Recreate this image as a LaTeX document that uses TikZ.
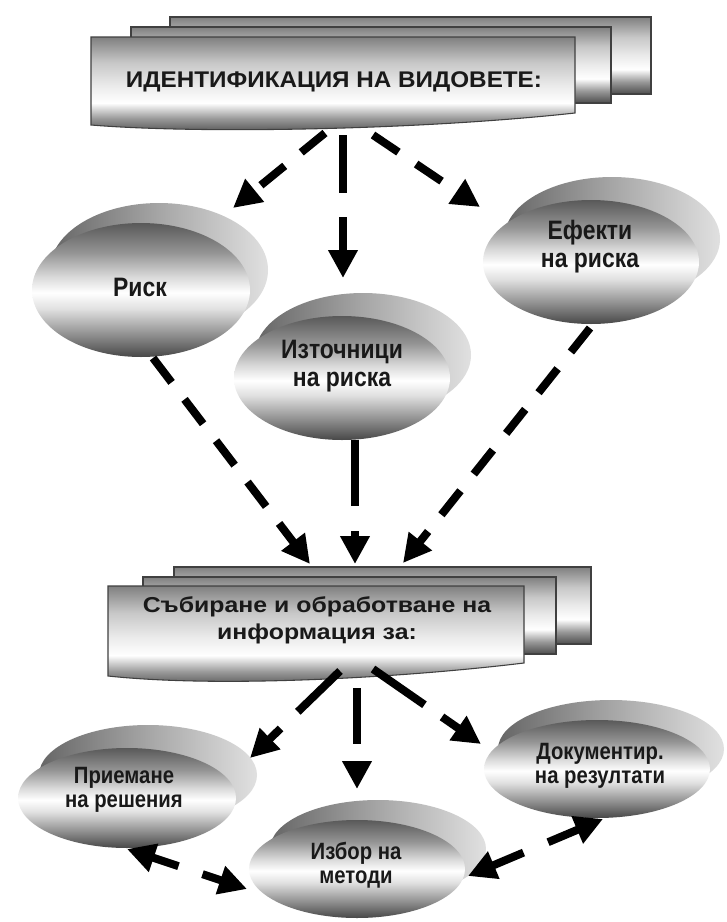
\documentclass[tikz,border=0pt]{standalone}
\usepackage{fontspec}
\setmainfont{Liberation Sans}
\newfontfamily\titlefont[FakeStretch=1.07]{Liberation Sans}
\newfontfamily\narrowfont[FakeStretch=0.86]{Liberation Sans}
\newfontfamily\widefont[FakeStretch=1.15]{Liberation Sans}
\usetikzlibrary{arrows.meta,shapes.geometric}
\pgfdeclareverticalshading{boxshade}{100bp}{color(0bp)=(black!70); color(25bp)=(black!70); color(33bp)=(black!40); color(41bp)=(white); color(50bp)=(black!8); color(62bp)=(black!22); color(75bp)=(black!50); color(100bp)=(black!50)}
\pgfdeclareverticalshading{ellshade}{100bp}{color(0bp)=(black!72); color(25bp)=(black!72); color(33bp)=(black!45); color(43bp)=(black!12); color(49bp)=(white); color(55bp)=(black!15); color(64bp)=(black!42); color(75bp)=(black!65); color(100bp)=(black!65)}
\pgfdeclarehorizontalshading{backshade}{100bp}{color(0bp)=(black!60); color(25bp)=(black!60); color(50bp)=(black!35); color(75bp)=(black!12); color(100bp)=(black!12)}
\newcommand\blob[7]{%
  \path[backell] ({#2+(#6)},{#3+(#7)}) ellipse [x radius={#4*0.75pt}, y radius={#5*0.75pt}];
  \node[frontell, minimum width={2*#4*0.75pt}, minimum height={2*#5*0.75pt}] (#1) at (#2,#3) {};
}
\begin{document}
\begin{tikzpicture}[x=0.75pt,y=-0.75pt,
  sheet/.style={shade, shading=boxshade, draw=black!75, line width=0.8pt},
  backell/.style={shade, shading=backshade},
  frontell/.style={ellipse, shade, shading=ellshade, inner sep=0pt},
  boxtxt/.style={font=\titlefont\bfseries\fontsize{17}{20}\selectfont, text=black!90, inner sep=0pt, align=center},
  collt/.style={font=\widefont\bfseries\fontsize{16.2}{20.3}\selectfont, text=black!90, inner sep=0pt, align=center},
  toptxt/.style={font=\narrowfont\bfseries\fontsize{20}{21}\selectfont, text=black!90, inner sep=0pt, align=center},
  bottxt/.style={font=\narrowfont\bfseries\fontsize{17.7}{17.8}\selectfont, text=black!90, inner sep=0pt, align=center},
  con/.style={line width=6pt, -{Triangle[length=21pt,width=21pt]}},
  bicon/.style={line width=6pt, {Triangle[length=21pt,width=21pt]}-{Triangle[length=21pt,width=21pt]}},
  shortdash/.style={dash pattern=on 23pt off 16pt},
  longdash/.style={dash pattern=on 44pt off 18pt}
]
\fill[white] (0,0) rectangle (726,922);
\useasboundingbox (0,0) rectangle (726,922);

% top stacked box
\path[sheet] (170,17) rectangle (651,94);
\path[sheet] (131,27) rectangle (611,103);
\path[sheet] (91,37) -- (575,37) -- (575,113) .. controls (420,130) and (200,134) .. (91,125) -- cycle;
\node[boxtxt] (ident) at (334,82) {ИДЕНТИФИКАЦИЯ НА ВИДОВЕТЕ:};

% top ellipses
\blob{risk}{141}{290}{109}{67}{18}{-20}
\blob{src}{342}{378}{108}{62}{21}{-23}
\blob{eff}{591}{262}{108}{62}{21}{-23}
\node[toptxt] (risk-t) at (140,287) {Риск};
\node[toptxt] (src-t) at (342,366) {Източници\\на риска};
\node[toptxt] (eff-t) at (590,247) {Ефекти\\на риска};

% bottom stacked box
\path[sheet] (174,567) rectangle (591,644);
\path[sheet] (143,577) rectangle (556,654);
\path[sheet] (108,586) -- (524,586) -- (524,663) .. controls (400,678) and (220,688) .. (108,676) -- cycle;
\node[collt] (coll) at (317,620) {Събиране и обработване на\\информация за:};

% bottom ellipses
\blob{dec}{127}{798}{109}{50}{21}{-23}
\blob{meth}{357}{869}{108}{49}{21}{-20}
\blob{doc}{597}{769}{113}{49}{14}{-20}
\node[bottxt] (dec-t) at (124,790) {Приемане\\на решения};
\node[bottxt] (meth-t) at (356,865) {Избор на\\методи};
\node[bottxt] (doc-t) at (600,766) {Документир.\\на резултати};

% connectors from top box
\draw[con, shortdash] ([shift={(-9,51)}]ident.center) -- ([shift={(92,-82)}]risk.center);
\draw[con, dash pattern=on 43.5pt off 18pt] ([shift={(9,53)}]ident.center) -- ([shift={(1,-100)}]src.center);
\draw[con, shortdash] ([shift={(39,53)}]ident.center) -- ([shift={(-111,-55)}]eff.center);

% connectors into bottom box
\draw[con, shortdash] ([shift={(12,68)}]risk.center) -- ([shift={(-7,-56)}]coll.center);
\draw[con, dash pattern=on 49.5pt off 18.75pt] ([shift={(13,62)}]src.center) -- ([shift={(38,-56)}]coll.center);
\draw[con, shortdash] ([shift={(-1,66)}]eff.center) -- ([shift={(86,-57)}]coll.center);

% connectors from bottom box
\draw[con, longdash] ([shift={(23,51)}]coll.center) -- ([shift={(123,-40)}]dec.center);
\draw[con, dash pattern=on 42pt off 16.5pt] ([shift={(40,68)}]coll.center) -- ([shift={(0,-80)}]meth.center);
\draw[con, dash pattern=on 47pt off 16pt] ([shift={(56,49)}]coll.center) -- ([shift={(-116,-25)}]doc.center);

% bidirectional connectors
\draw[bicon, dash pattern=on 21pt off 19pt] ([shift={(0,51)}]dec.center) -- ([shift={(-110,20)}]meth.center);
\draw[bicon, dash pattern=on 25.5pt off 20pt] ([shift={(111,7)}]meth.center) -- ([shift={(6,50)}]doc.center);
\end{tikzpicture}
\end{document}
